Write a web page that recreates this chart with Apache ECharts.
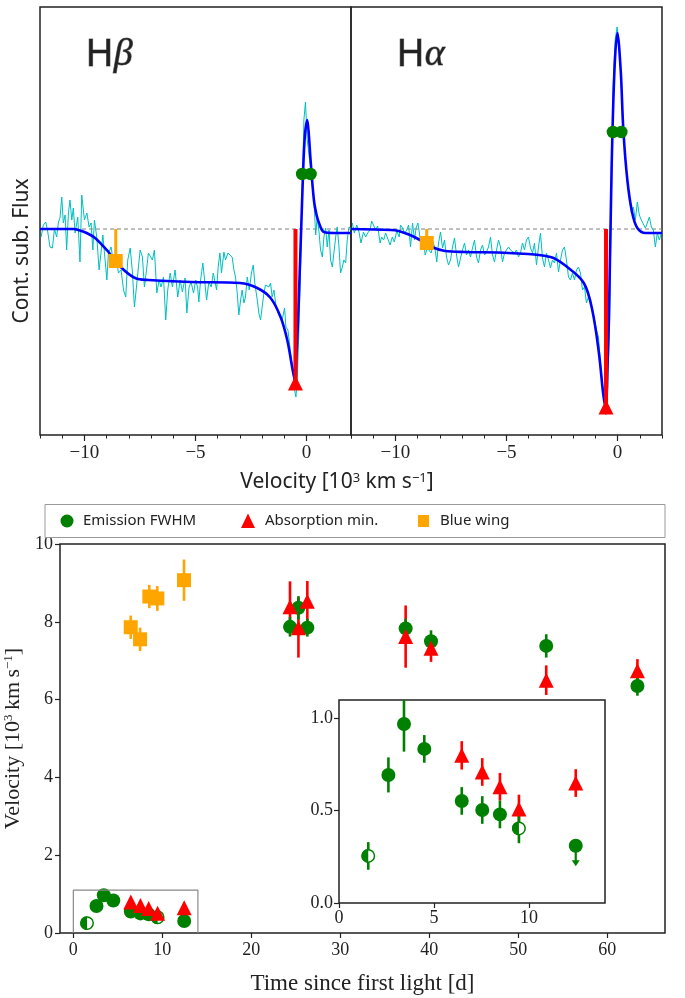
<!DOCTYPE html>
<html>
<head>
<meta charset="utf-8">
<script src="https://cdn.jsdelivr.net/npm/echarts@6/dist/echarts.min.js"></script>
<style>
html,body{margin:0;padding:0;background:#fff;}
#chart{width:685px;height:998px;}
</style>
</head>
<body>
<div id="chart"></div>
<script>
// ---------- top panels: line profiles (velocity [10^3 km/s], continuum-subtracted flux, arb.) ----------
const hbSpec = [
  [-11.95,-0.08],[-11.85,0.04],[-11.74,0.07],[-11.65,-0.03],[-11.55,-0.18],[-11.44,-0.19],[-11.35,0],[-11.25,-0.08],
  [-11.17,0.07],[-11.10,0.11],[-11.02,0.32],[-10.95,0.06],[-10.87,0.14],[-10.80,-0.21],[-10.72,0.16],[-10.65,0.29],
  [-10.57,0.09],[-10.50,0.21],[-10.42,-0.04],[-10.30,0.12],[-10.20,-0.33],[-10.12,0.34],[-10.00,0.09],[-9.89,0.16],
  [-9.79,0.02],[-9.70,0.06],[-9.62,-0.21],[-9.55,0.09],[-9.44,-0.09],[-9.34,-0.41],[-9.25,-0.23],[-9.17,-0.06],
  [-9.07,-0.31],[-8.99,-0.51],[-8.92,-0.24],[-8.80,-0.18],[-8.69,-0.34],[-8.59,-0.24],[-8.47,-0.44],[-8.35,-0.41],
  [-8.24,-0.61],[-8.14,-0.68],[-8.05,-0.31],[-7.94,-0.19],[-7.84,-0.43],[-7.75,-0.78],[-7.64,-0.54],[-7.57,-0.38],
  [-7.49,-0.21],[-7.39,-0.28],[-7.30,-0.58],[-7.19,-0.38],[-7.12,-0.24],[-7.03,-0.23],[-6.94,-0.31],[-6.85,-0.21],
  [-6.74,-0.64],[-6.64,-0.51],[-6.55,-0.58],[-6.44,-0.48],[-6.34,-0.91],[-6.25,-0.61],[-6.14,-0.44],[-6.04,-0.58],
  [-5.92,-0.41],[-5.80,-0.68],[-5.69,-0.51],[-5.59,-0.63],[-5.47,-0.49],[-5.39,-0.84],[-5.29,-0.58],[-5.20,-0.53],
  [-5.09,-0.64],[-4.99,-0.51],[-4.90,-0.59],[-4.85,-0.73],[-4.77,-0.51],[-4.67,-0.34],[-4.59,-0.51],[-4.50,-0.71],
  [-4.40,-0.53],[-4.29,-0.58],[-4.20,-0.44],[-4.13,-0.43],[-4.05,-0.61],[-3.98,-0.38],[-3.90,-0.24],[-3.83,-0.44],
  [-3.72,-0.23],[-3.65,-0.31],[-3.54,-0.24],[-3.45,-0.23],[-3.35,-0.28],[-3.27,-0.41],[-3.20,-0.48],[-3.12,-0.64],
  [-3.05,-0.86],[-2.97,-0.71],[-2.90,-0.61],[-2.82,-0.74],[-2.75,-0.68],[-2.67,-0.48],[-2.58,-0.61],[-2.48,-0.44],
  [-2.40,-0.36],[-2.33,-0.54],[-2.22,-0.71],[-2.15,-0.84],[-2.07,-0.91],[-2.00,-0.78],[-1.92,-0.64],[-1.85,-0.56],
  [-1.77,-0.54],[-1.70,-0.58],[-1.62,-0.54],[-1.55,-0.68],[-1.47,-0.61],[-1.38,-0.76],[-1.29,-0.84],[-1.20,-0.88],
  [-1.10,-0.91],[-0.99,-0.79],[-0.93,-0.98],[-0.84,-1.01],[-0.75,-1.18],[-0.68,-1.31],[-0.60,-1.44],[-0.54,-1.61],
  [-0.48,-1.68],[-0.42,-1.51],[-0.35,-1.04],[-0.27,-0.38],[-0.20,0.29],[-0.12,1.09],[-0.05,1.27],[0.03,0.89],
  [0.10,0.76],[0.18,0.62],[0.26,0.42],[0.33,0.29],[0.41,-0.06],[0.48,0.12],[0.56,-0.03],[0.63,-0.21],
  [0.71,-0.28],[0.78,-0.08],[0.86,0.01],[0.93,-0.18],[1.01,-0.01],[1.08,-0.31],[1.16,-0.38],[1.23,-0.24],
  [1.31,-0.08],[1.38,0.02],[1.46,-0.18],[1.53,-0.44],[1.61,-0.38],[1.68,-0.31],[1.76,-0.34],[1.83,-0.11],
  [1.91,0.02],[1.98,0.01]
];
const hbFit = [
  [-12,0],[-10.5,0],[-10.27,-0.01],[-9.9,-0.04],[-9.52,-0.09],[-8.92,-0.23],[-8.32,-0.39],[-7.72,-0.49],
  [-7.12,-0.51],[-5.2,-0.53],[-3.0,-0.54],[-2.22,-0.59],[-1.62,-0.69],[-1.17,-0.88],[-0.87,-1.11],[-0.65,-1.38],
  [-0.53,-1.51],[-0.44,-1.2],[-0.35,-0.71],[-0.2,0.29],[-0.09,0.89],[0.03,1.09],[0.1,0.95],[0.18,0.69],
  [0.33,0.29],[0.45,0.14],[0.56,0.06],[0.78,-0.03],[1.23,-0.04],[2,-0.04]
];
const hbEmis = [[-0.2,0.55],[0.18,0.55]];
const hbAbs = [[-0.5,-1.54]];
const hbWing = [[-8.59,-0.32]];

const haSpec = [
  [-11.94,0.06],[-11.85,-0.04],[-11.74,0.04],[-11.64,-0.03],[-11.55,-0.14],[-11.44,-0.03],[-11.34,-0.08],[-11.25,-0.04],
  [-11.14,-0.01],[-11.07,0.08],[-10.98,0.06],[-10.89,-0.01],[-10.80,0.03],[-10.69,-0.14],[-10.62,-0.08],[-10.53,-0.11],
  [-10.44,-0.04],[-10.35,-0.04],[-10.24,-0.16],[-10.14,-0.08],[-10.05,-0.13],[-9.94,-0.02],[-9.83,-0.08],[-9.77,0.04],
  [-9.68,0.01],[-9.59,-0.04],[-9.49,-0.01],[-9.41,0.04],[-9.32,-0.18],[-9.23,0.06],[-9.14,-0.11],[-9.07,0.01],
  [-8.99,0.06],[-8.92,-0.04],[-8.84,-0.18],[-8.75,-0.09],[-8.66,-0.26],[-8.57,-0.19],[-8.48,-0.18],[-8.39,-0.24],
  [-8.30,-0.13],[-8.21,-0.21],[-8.14,-0.33],[-8.06,-0.14],[-7.97,-0.03],[-7.88,-0.19],[-7.79,-0.11],[-7.70,-0.28],
  [-7.61,-0.36],[-7.52,-0.31],[-7.43,-0.18],[-7.34,-0.09],[-7.25,-0.26],[-7.16,-0.38],[-7.07,-0.29],[-6.98,-0.21],
  [-6.89,-0.14],[-6.80,-0.26],[-6.71,-0.21],[-6.62,-0.28],[-6.53,-0.19],[-6.44,-0.11],[-6.35,-0.28],[-6.26,-0.34],
  [-6.17,-0.21],[-6.08,-0.16],[-5.99,-0.26],[-5.90,-0.23],[-5.81,-0.18],[-5.72,-0.08],[-5.63,-0.26],[-5.54,-0.33],
  [-5.45,-0.21],[-5.36,-0.11],[-5.27,-0.18],[-5.18,-0.33],[-5.09,-0.24],[-5.00,-0.24],[-4.91,-0.18],[-4.82,-0.21],
  [-4.73,-0.19],[-4.64,-0.24],[-4.55,-0.21],[-4.46,-0.28],[-4.37,-0.24],[-4.28,-0.14],[-4.19,-0.21],[-4.10,-0.11],
  [-4.01,-0.08],[-3.92,-0.19],[-3.83,-0.24],[-3.74,-0.14],[-3.65,-0.36],[-3.56,-0.18],[-3.47,-0.04],[-3.38,-0.29],
  [-3.29,-0.38],[-3.20,-0.24],[-3.11,-0.31],[-3.02,-0.39],[-2.93,-0.31],[-2.84,-0.34],[-2.75,-0.24],[-2.66,-0.43],
  [-2.57,-0.31],[-2.48,-0.21],[-2.39,-0.18],[-2.30,-0.31],[-2.21,-0.48],[-2.12,-0.51],[-2.03,-0.44],[-1.94,-0.51],
  [-1.85,-0.41],[-1.76,-0.38],[-1.67,-0.44],[-1.58,-0.61],[-1.49,-0.58],[-1.40,-0.74],[-1.31,-0.68],[-1.22,-0.71],
  [-1.13,-0.81],[-1.04,-0.91],[-0.95,-1.01],[-0.86,-1.08],[-0.77,-1.34],[-0.69,-1.51],[-0.62,-1.71],[-0.53,-1.86],
  [-0.44,-1.58],[-0.36,-0.91],[-0.27,0.42],[-0.20,1.42],[-0.11,1.89],[-0.02,2.02],[0.08,1.82],[0.17,1.42],
  [0.26,1.02],[0.35,0.69],[0.44,0.46],[0.53,0.32],[0.62,0.16],[0.71,0.22],[0.80,0.09],[0.89,0.27],
  [0.98,0.14],[1.07,0.09],[1.16,0.09],[1.25,0.01],[1.34,0.06],[1.43,0.12],[1.52,0.02],[1.61,-0.01],
  [1.70,-0.18],[1.79,-0.04],[1.88,-0.11],[1.97,-0.04]
];
const haFit = [
  [-12,0],[-10.2,-0.01],[-9.86,-0.02],[-9.34,-0.06],[-8.89,-0.11],[-8.36,-0.18],[-7.76,-0.22],[-6.86,-0.23],
  [-4.91,-0.24],[-3.02,-0.28],[-2.27,-0.38],[-1.52,-0.54],[-1.14,-0.81],[-0.84,-1.24],[-0.65,-1.64],[-0.53,-1.79],
  [-0.46,-1.4],[-0.39,-0.91],[-0.27,0.59],[-0.14,1.59],[-0.01,1.96],[0.14,1.59],[0.26,0.99],[0.44,0.49],
  [0.66,0.16],[0.89,0.01],[1.26,-0.04],[2,-0.04]
];
const haEmis = [[-0.21,0.97],[0.17,0.97]];
const haAbs = [[-0.52,-1.78]];
const haWing = [[-8.59,-0.14]];

// ---------- bottom panel: velocities vs time, [t (d), v (10^3 km/s), err] ----------
const emisFull = [
  [2.6,0.694,0.095],[3.42,0.97,0.15],[4.49,0.835,0.075],[6.46,0.553,0.075],[7.54,0.504,0.075],[8.47,0.48,0.075],
  [24.35,7.87,0.25],[25.3,8.36,0.3],[26.3,7.85,0.23],[37.35,7.83,0.25],[40.2,7.5,0.28],[53.15,7.38,0.3],[63.4,6.35,0.25]
];
const emisHalf = [[1.54,0.255,0.075],[9.47,0.404,0.08]];
const emisLimit = [[12.46,0.31,0.205]];   // [t, v, arrow end]
const absMin = [
  [6.46,0.80,0.077],[7.54,0.71,0.075],[8.47,0.63,0.075],[9.47,0.51,0.077],[12.46,0.65,0.075],
  [24.35,8.39,0.65],[25.3,7.85,0.77],[26.3,8.53,0.52],[37.35,7.62,0.8],[40.2,7.32,0.35],[53.15,6.5,0.38],[63.4,6.74,0.3]
];
const blueWing = [[6.45,7.86,0.3],[7.5,7.55,0.3],[8.54,8.65,0.3],[9.44,8.6,0.32],[12.44,9.07,0.53]];

const mainTicks = [0,10,20,30,40,50,60];
const insetXTicks = [0,5,10];
const insetYTicks = [0,0.5,1.0];
const velMajor = [-10,-5,0];
const velMinor = [-12,-11,-10,-9,-8,-7,-6,-5,-4,-3,-2,-1,0,1,2];
const zoomBox = [[0,0],[0,1.1],[14,1.1],[14,0]];

const G = '#008000', R = '#ff0000', O = '#ffa500', B = '#0000ff', C = '#00bfbf', K = '#222';
const serif = '"Liberation Serif","DejaVu Serif",serif';
const sans = '"Noto Sans","DejaVu Sans",sans-serif';
const minus = v => String(v).replace('-', '\u2212');

const chart = echarts.init(document.getElementById('chart'), null, {renderer: 'canvas'});

const noLine = {show:false, onZero:false};

function velAxes(grid) {
  return [
    {type:'value', gridIndex:grid, min:-12, max:2, position:'bottom',
     axisLine:noLine, splitLine:{show:false},
     axisTick:{customValues:velMajor, length:6, lineStyle:{color:K, width:1.2}},
     axisLabel:{customValues:velMajor, formatter:minus, color:K, fontFamily:serif, fontSize:19, margin:9}},
    {type:'value', gridIndex:grid, min:-12, max:2, position:'bottom',
     axisLine:noLine, splitLine:{show:false}, axisLabel:{show:false},
     axisTick:{customValues:velMinor, length:3.5, lineStyle:{color:K, width:1}}}
  ];
}
const flatY = grid => ({type:'value', gridIndex:grid, min:-2.06, max:2.22,
  axisLine:noLine, axisTick:{show:false}, axisLabel:{show:false}, splitLine:{show:false}});

function profileSeries(xi, yi, spec, fit, emis, abs, wing) {
  const base = {xAxisIndex:xi, yAxisIndex:yi, symbol:'none', silent:true};
  const dot = (data, symbol, size, color) => ({type:'scatter', xAxisIndex:xi, yAxisIndex:yi, data:data,
    symbol:symbol, symbolSize:size, itemStyle:{color:color, opacity:1}, z:5, silent:true});
  return [
    Object.assign({type:'line', data:[[-12,0],[2,0]], z:1, lineStyle:{color:'#808080', width:1, type:[4,3]}}, base),
    Object.assign({type:'line', data:spec, z:2, lineStyle:{color:C, width:1}}, base),
    Object.assign({type:'line', data:fit, z:3, smooth:0.35, lineStyle:{color:B, width:2.6}}, base),
    Object.assign({type:'line', data:[[abs[0][0],0], abs[0]], z:4, lineStyle:{color:R, width:4}}, base),
    Object.assign({type:'line', data:[[wing[0][0],0], wing[0]], z:4, lineStyle:{color:O, width:3}}, base),
    dot(emis, 'circle', 12.5, G),
    dot(abs, 'triangle', 15, R),
    dot(wing, 'rect', 14, O)
  ];
}

function errBars(data, color, xi, yi, z) {
  return {type:'custom', xAxisIndex:xi, yAxisIndex:yi, z:z, clip:true, silent:true,
    data:data.map(d => [d[0], d[1] - d[2], d[1] + d[2]]),
    renderItem(params, api) {
      const a = api.coord([api.value(0), api.value(1)]);
      const b = api.coord([api.value(0), api.value(2)]);
      return {type:'line', shape:{x1:a[0], y1:a[1], x2:b[0], y2:b[1]}, style:{stroke:color, lineWidth:2.6}};
    }};
}
function halfCircles(xi, yi) {
  return {type:'custom', xAxisIndex:xi, yAxisIndex:yi, z:6, clip:true, silent:true,
    data:emisHalf.map(d => [d[0], d[1]]),
    renderItem(params, api) {
      const p = api.coord([api.value(0), api.value(1)]);
      return {type:'group', children:[
        {type:'circle', shape:{cx:p[0], cy:p[1], r:6.2}, style:{fill:'#fff', stroke:G, lineWidth:1.5}},
        {type:'sector', shape:{cx:p[0], cy:p[1], r:6.9, r0:0, startAngle:Math.PI/2, endAngle:Math.PI*1.5, clockwise:true}, style:{fill:G}}
      ]};
    }};
}
function limitArrow(xi, yi) {
  return {type:'custom', xAxisIndex:xi, yAxisIndex:yi, z:3, clip:true, silent:true,
    data:emisLimit,
    renderItem(params, api) {
      const a = api.coord([api.value(0), api.value(1)]);
      const b = api.coord([api.value(0), api.value(2)]);
      return {type:'group', children:[
        {type:'line', shape:{x1:a[0], y1:a[1], x2:b[0], y2:b[1] - 3}, style:{stroke:G, lineWidth:2.2}},
        {type:'polygon', shape:{points:[[b[0]-4, b[1]-5], [b[0]+4, b[1]-5], [b[0], b[1]+1]]}, style:{fill:G}}
      ]};
    }};
}
function velSeries(xi, yi) {
  const dot = (data, symbol, size, color, z) => ({type:'scatter', xAxisIndex:xi, yAxisIndex:yi,
    data:data.map(d => [d[0], d[1]]), symbol:symbol, symbolSize:size, itemStyle:{color:color, opacity:1}, z:z, silent:true});
  return [
    errBars(blueWing, O, xi, yi, 2),
    errBars(absMin, R, xi, yi, 2),
    errBars(emisFull.concat(emisHalf), G, xi, yi, 2),
    limitArrow(xi, yi),
    dot(blueWing, 'rect', 14, O, 3),
    dot(emisFull.concat(emisLimit), 'circle', 14, G, 4),
    halfCircles(xi, yi),
    dot(absMin, 'triangle', 15, R, 7)
  ];
}

const axisTxt = {color:K, fontFamily:serif, fontSize:18};
const supRich = f => ({s:{fontFamily:f, fontSize:13, verticalAlign:'top', color:K, padding:[0,0,9,0]}});
const frame = {show:true, borderColor:K, borderWidth:1.5, backgroundColor:'transparent', outerBoundsMode:'none', containLabel:false};

const option = {
  backgroundColor:'#fff',
  animation:false,
  grid:[
    Object.assign({left:40, top:7, width:311, height:428}, frame),
    Object.assign({left:351, top:7, width:311, height:428}, frame),
    Object.assign({left:60, top:544, width:605, height:389}, frame),
    Object.assign({}, frame, {left:339, top:700, width:266, height:203, backgroundColor:'#fff', z:10})
  ],
  xAxis:[
    ...velAxes(0), ...velAxes(1),
    {type:'value', gridIndex:2, min:-1.5, max:66.5, splitLine:{show:false},
     axisLine:noLine, axisTick:{customValues:mainTicks, length:5, lineStyle:{color:K, width:1.2}},
     axisLabel:Object.assign({customValues:mainTicks, margin:8}, axisTxt),
     name:'Time since first light [d]', nameLocation:'middle', nameGap:39,
     nameTextStyle:{color:K, fontFamily:serif, fontSize:23}},
    {type:'value', gridIndex:3, min:0, max:14, splitLine:{show:false}, z:11,
     axisLine:noLine, axisTick:{customValues:insetXTicks, length:5, lineStyle:{color:K, width:1.2}},
     axisLabel:Object.assign({customValues:insetXTicks, margin:6}, axisTxt)}
  ],
  yAxis:[
    flatY(0), flatY(1),
    {type:'value', gridIndex:2, min:0, max:10, interval:2, splitLine:{show:false},
     axisLine:noLine, axisTick:{length:5, lineStyle:{color:K, width:1.2}},
     axisLabel:Object.assign({margin:7}, axisTxt),
     name:'Velocity [10{s|3}\u2009km\u2009s{s|\u22121}]', nameLocation:'middle', nameGap:25, nameRotate:90,
     nameTextStyle:{color:K, fontFamily:serif, fontSize:22, rich:supRich(serif)}},
    {type:'value', gridIndex:3, min:0, max:1.1, splitLine:{show:false}, z:11,
     axisLine:noLine, axisTick:{customValues:insetYTicks, length:5, lineStyle:{color:K, width:1.2}},
     axisLabel:Object.assign({customValues:insetYTicks, margin:6, formatter:v => v.toFixed(1)}, axisTxt)}
  ],
  series:[
    ...profileSeries(0, 0, hbSpec, hbFit, hbEmis, hbAbs, hbWing),
    ...profileSeries(2, 1, haSpec, haFit, haEmis, haAbs, haWing),
    {type:'line', xAxisIndex:4, yAxisIndex:2, data:zoomBox, symbol:'none', silent:true, z:8,
     lineStyle:{color:'#888', width:1.2}},
    ...velSeries(4, 2),
    ...velSeries(5, 3).map(s => Object.assign(s, {z:(s.z || 2) + 20}))
  ],
  graphic:[
    {type:'text', left:85, top:36, z:20, style:{text:'{h|H}{g|\u03b2}', rich:{
      h:{fontFamily:sans, fontSize:38, fill:K}, g:{fontFamily:serif, fontStyle:'italic', fontSize:38, fill:K}}}},
    {type:'text', left:396, top:36, z:20, style:{text:'{h|H}{g|\u03b1}', rich:{
      h:{fontFamily:sans, fontSize:38, fill:K}, g:{fontFamily:serif, fontStyle:'italic', fontSize:38, fill:K}}}},
    {type:'text', x:22, y:251, rotation:Math.PI/2, z:20,
     style:{text:'Cont. sub. Flux', fontFamily:sans, fontSize:21, fill:K, align:'center', verticalAlign:'middle'}},
    {type:'text', x:337, y:482, z:20,
     style:{text:'Velocity [10{s|3} km s{s|\u22121}]', fontFamily:sans, fontSize:21, fill:K, align:'center', verticalAlign:'middle',
            rich:{s:{fontFamily:sans, fontSize:13, verticalAlign:'top', fill:K, padding:[0,0,8,0]}}}},
    // legend
    {type:'rect', z:20, shape:{x:45, y:504.5, width:620, height:33}, style:{fill:'#fff', stroke:'#999', lineWidth:1}},
    {type:'circle', z:21, shape:{cx:67, cy:521, r:6.5}, style:{fill:G}},
    {type:'text', z:21, x:83, y:521, style:{text:'Emission FWHM', fontFamily:sans, fontSize:15, fill:K, verticalAlign:'middle'}},
    {type:'polygon', z:21, shape:{points:[[248,513.5],[241,528],[255,528]]}, style:{fill:R}},
    {type:'text', z:21, x:265, y:521, style:{text:'Absorption min.', fontFamily:sans, fontSize:15, fill:K, verticalAlign:'middle'}},
    {type:'rect', z:21, shape:{x:418, y:515, width:11, height:12}, style:{fill:O}},
    {type:'text', z:21, x:440, y:521, style:{text:'Blue wing', fontFamily:sans, fontSize:15, fill:K, verticalAlign:'middle'}}
  ]
};
chart.setOption(option);

// zoom connector lines from the small box to the inset corners
const a1 = chart.convertToPixel({gridIndex:2}, [0, 1.1]);
const b1 = chart.convertToPixel({gridIndex:3}, [0, 1.1]);
const a2 = chart.convertToPixel({gridIndex:2}, [14, 0]);
const b2 = chart.convertToPixel({gridIndex:3}, [14, 0]);
chart.setOption({graphic:[
  {type:'line', z:1, shape:{x1:a1[0], y1:a1[1], x2:b1[0], y2:b1[1]}, style:{stroke:'#888', lineWidth:1}},
  {type:'line', z:1, shape:{x1:a2[0], y1:a2[1], x2:b2[0], y2:b2[1]}, style:{stroke:'#888', lineWidth:1}}
]});
</script>
</body>
</html>
